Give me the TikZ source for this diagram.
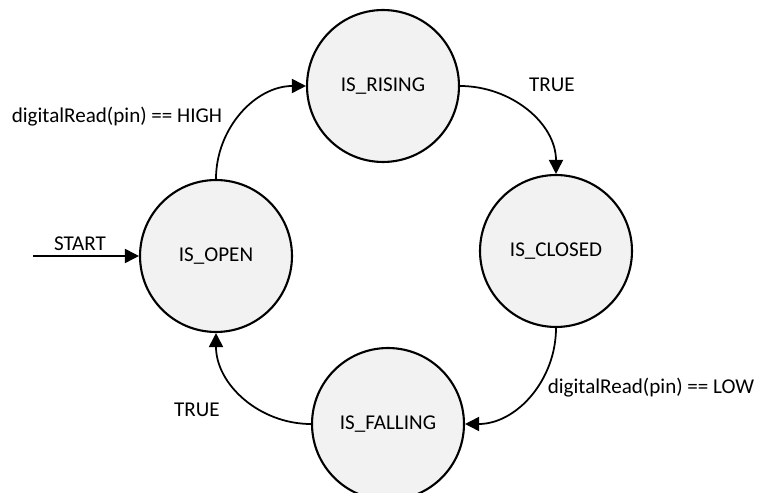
\documentclass[tikz,border=0pt]{standalone}
\usepackage{fontspec}
\setmainfont{Carlito}
\usepackage{tikz}
\usetikzlibrary{arrows.meta, positioning}
\definecolor{cFill}{RGB}{242,242,242}
\tikzset{
	statenode/.style={circle, draw=black, line width=1.2pt, fill=cFill, minimum size=3.04cm, inner sep=0pt, align=center},
	trans/.style    ={-{Triangle[length=8pt, width=8pt]}, line width=1pt},
	lbl/.style      ={inner sep=1pt},
}

\begin{document}
\begin{tikzpicture}[x=0.02cm, y=-0.02cm, font=\fontsize{12}{14}\selectfont]
	\useasboundingbox (0,0) rectangle (758,493);
	% states
	\node[statenode] (rising)  at (383,86)  {IS\_RISING};
	\node[statenode] (open)    at (216,256) {IS\_OPEN};
	\node[statenode] (closed)  at (556,251) {IS\_CLOSED};
	\node[statenode] (falling) at (388,424) {IS\_FALLING};
	% start arrow
	\coordinate (start) at (33,256);
	\draw[trans] (start) -- (open.west);
	\node[lbl] (startlbl) at (80,244) {START};
	% transitions
	\draw[trans] (open.north) to[out=90, in=180] (rising.west);
	\draw[trans] (rising.east) to[out=0, in=90] (closed.north);
	\draw[trans] (closed.south) to[out=270, in=0] (falling.east);
	\draw[trans] (falling.west) to[out=180, in=270] (open.south);
	% labels
	\node[lbl] (high)  at (117,117) {digitalRead(pin) == HIGH};
	\node[lbl] (true1) at (552,85)  {TRUE};
	\node[lbl] (low)   at (651,388) {digitalRead(pin) == LOW};
	\node[lbl] (true2) at (197,410) {TRUE};
\end{tikzpicture}
\end{document}
